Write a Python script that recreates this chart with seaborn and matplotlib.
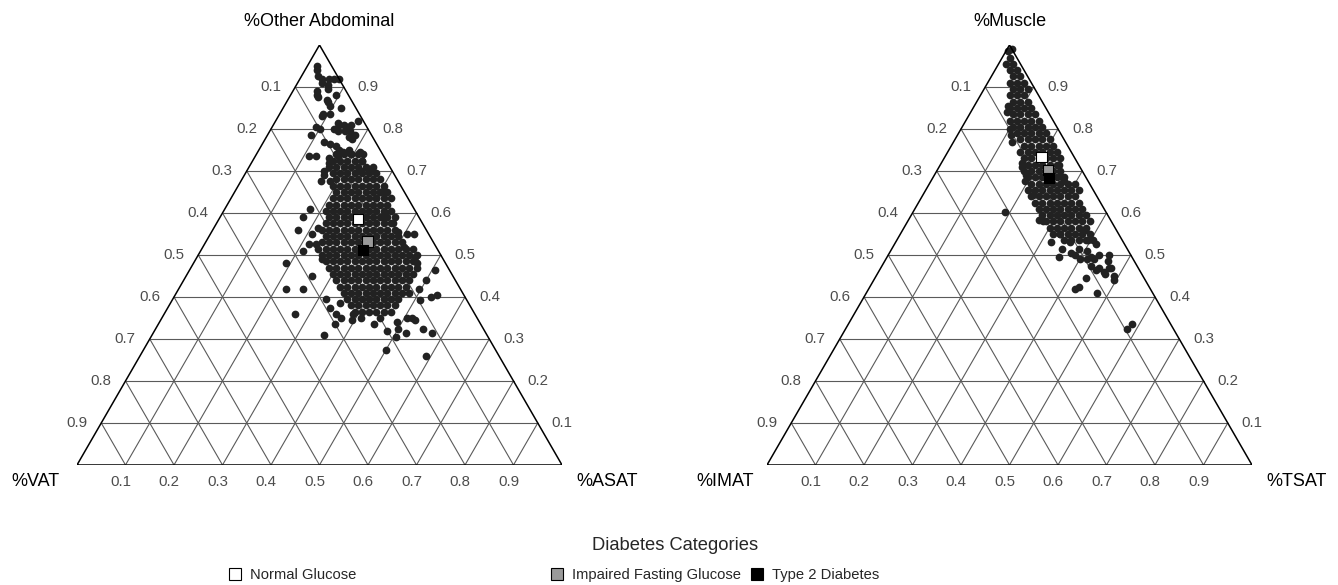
import numpy as np
import pandas as pd
import matplotlib
matplotlib.use('Agg')
import matplotlib.pyplot as plt
import seaborn as sns
from matplotlib.lines import Line2D

sns.set_style('white')
plt.rcParams['font.family'] = ['Liberation Sans', 'DejaVu Sans']

# ---- data (percent of each compartment) ----
categories = ['Normal Glucose', 'Impaired Fasting Glucose', 'Type 2 Diabetes']
palette = {'Normal Glucose': '#ffffff', 'Impaired Fasting Glucose': '#9a9a9a',
           'Type 2 Diabetes': '#000000'}

tick_values = [0.1, 0.2, 0.3, 0.4, 0.5, 0.6, 0.7, 0.8, 0.9]
tick_labels = ['0.1', '0.2', '0.3', '0.4', '0.5', '0.6', '0.7', '0.8', '0.9']

# abdominal panel: (%ASAT, %Other Abdominal), %VAT is the rest
abd_spread = [
    (2, 95), (2.5, 94), (3.5, 92.5), (4.5, 92), (5, 91), (6, 92), (7, 92), (8, 92),
    (6.5, 90.5), (7, 89.5), (5, 89), (5.5, 88), (6, 87.5), (9.5, 88), (8, 87),
    (8.5, 86.5), (9.5, 85.5), (12, 85), (9, 83.5), (9, 83), (10.5, 83.5), (13, 81.5),
    (13.5, 81), (14.5, 81), (15.5, 80.5), (16, 81), (17, 82), (13, 80), (14, 79.5),
    (15.5, 79.5), (16.5, 79.5), (18, 78.5), (17, 78), (18, 77.5), (9, 80.5), (10, 80),
    (9, 78.5), (12.5, 77), (14, 76.5), (15.5, 76), (16.5, 75), (17.5, 74.5), (18.5, 75),
    (19.5, 74), (21, 74.5), (22, 74), (22.5, 72.5), (11, 73.5), (12.5, 73.5),
    (15.5, 73), (16, 72), (17, 73.5), (16, 70), (16.5, 69), (23.5, 70), (25, 70.5),
    (25.5, 70), (16.5, 67.5), (18.5, 67.5), (30, 65), (31, 65), (30, 63.5),
    (17.5, 61), (17, 59), (17.5, 56), (21, 55), (21.5, 56.5), (23, 52.5), (21, 51),
    (21.5, 52.5), (19, 48), (26, 49), (26, 45), (22, 42), (25.5, 42), (31.5, 39.5),
    (33.5, 37.5), (35, 38.5), (27, 36), (35.5, 36), (37, 35), (36.5, 33.5), (35.5, 31),
    (39, 36), (39.5, 34.5), (41, 35), (44.5, 33.5), (45, 35), (48, 32), (49, 34),
    (50, 32.5), (50.5, 35), (51.5, 35), (50.5, 30.5), (52, 31.5), (52.5, 34.5),
    (55, 32.5), (57.5, 31.5), (50, 27.5), (59, 26), (53, 40), (54, 40.5), (51, 39.3),
    (49.5, 42), (50, 44), (50.5, 46.5), (45, 49.5), (46, 48), (41.5, 52), (42, 55),
    (40.5, 55), (38.5, 55.5), (33.5, 59), (36.5, 57.5), (33.5, 60),
]
abd_core_other = [74, 72.5, 71, 69.5, 68, 66.5, 65, 63.5, 62, 60.5, 59, 57.5, 56,
                  54.5, 53, 51.5, 50, 48.5, 47, 45.5, 44, 42.5, 41, 39.5, 38, 36.5]
abd_core_asat = [
    [16.5, 18, 19.5, 21],
    [16.5, 18, 19.5, 21, 22.5],
    [16.5, 18, 19.5, 21, 22.5, 24, 25.5],
    [18, 19.5, 21, 22.5, 24, 25.5, 27],
    [19.5, 21, 22.5, 24, 25.5, 27, 28.5],
    [19.5, 21, 22.5, 24, 25.5, 27, 28.5, 30],
    [21, 22.5, 24, 25.5, 27, 28.5, 30, 31.5],
    [21, 22.5, 24, 25.5, 27, 28.5, 30, 31.5, 33],
    [21, 22.5, 24, 25.5, 27, 28.5, 30, 31.5, 33],
    [21, 22.5, 24, 25.5, 27, 28.5, 30, 31.5, 33, 34.5],
    [22.5, 24, 25.5, 27, 28.5, 30, 31.5, 33, 34.5, 36],
    [22.5, 24, 25.5, 27, 28.5, 30, 31.5, 33, 34.5, 36],
    [22.5, 24, 25.5, 27, 28.5, 30, 31.5, 33, 34.5, 36, 37.5],
    [24, 25.5, 27, 28.5, 30, 31.5, 33, 34.5, 36, 37.5, 39],
    [24, 25.5, 27, 28.5, 30, 31.5, 33, 34.5, 36, 37.5, 39, 40.5],
    [24, 25.5, 27, 28.5, 30, 31.5, 33, 34.5, 36, 37.5, 39, 40.5, 42, 43.5],
    [25.5, 27, 28.5, 30, 31.5, 33, 34.5, 36, 37.5, 39, 40.5, 42, 43.5, 45],
    [27, 28.5, 30, 31.5, 33, 34.5, 36, 37.5, 39, 40.5, 42, 43.5, 45],
    [28.5, 30, 31.5, 33, 34.5, 36, 37.5, 39, 40.5, 42, 43.5, 45, 46.5],
    [30, 31.5, 33, 34.5, 36, 37.5, 39, 40.5, 42, 43.5, 45, 46.5],
    [31.5, 33, 34.5, 36, 37.5, 39, 40.5, 42, 43.5, 45, 46.5],
    [33, 34.5, 36, 37.5, 39, 40.5, 42, 43.5, 45, 46.5],
    [34.5, 36, 37.5, 39, 40.5, 42, 43.5, 45, 46.5, 48],
    [36, 37.5, 39, 40.5, 42, 43.5, 45, 46.5],
    [37.5, 39, 40.5, 42, 43.5, 45, 46.5],
    [39, 40.5, 42, 43.5, 45, 46.5],
]
abd_mean_asat = [28.75, 33.3, 33.4]
abd_mean_other = [58.5, 53.2, 51.2]

# muscle panel: (%TSAT, %Muscle), %IMAT is the rest
mus_spread = [
    (19, 60.3), (21, 65.5), (27, 58.3), (32, 53), (33, 55), (36, 53), (35, 51.5),
    (35.5, 49.5), (37.5, 50.5), (38.5, 50), (40, 49), (41.5, 49), (42, 49.5), (43, 49),
    (43.5, 50), (40.5, 51), (41.5, 52.5), (45.5, 50), (43, 47.5), (44.5, 46.5),
    (45, 47), (46.5, 46), (46, 48.5), (47, 47), (47.5, 47), (47, 45.5), (49, 45),
    (49.5, 44), (43.5, 44.5), (43, 42.5), (42.5, 42), (47.5, 41), (58, 32.5),
    (58.5, 33.5), (7, 85.5), (7.5, 84), (10, 80), (11, 78.5), (12, 77), (16.5, 72),
    (17, 71), (19, 69), (19.5, 67.5), (24.5, 71.5), (26.5, 68.5), (27.5, 67.5),
    (22.75, 64.3), (37.5, 56), (39.5, 53.5), (38.5, 51.5), (28, 58), (1, 99),
]
mus_core_muscle = [98.5, 97, 95.5, 94, 92.5, 91, 89.5, 88, 86.5, 85, 83.5, 82, 80.5,
                   79, 77.5, 76, 74.5, 73, 71.5, 70, 68.5, 67, 65.5, 64, 62.5, 61,
                   59.5, 58, 56.5, 55, 53.5]
mus_core_tsat = [
    [0.5],
    [1.5],
    [1.5, 3],
    [3, 4.5],
    [4.5, 6],
    [4.5, 6, 7.5],
    [6, 7.5, 9],
    [6, 7.5, 9],
    [7.5, 9, 10.5],
    [7.5, 9, 10.5, 12],
    [9, 10.5, 12, 13.5],
    [9, 10.5, 12, 13.5, 15],
    [10.5, 12, 13.5, 15, 16.5],
    [12, 13.5, 15, 16.5, 18],
    [13.5, 15, 16.5, 18, 19.5],
    [15, 16.5, 18, 19.5, 21],
    [15, 16.5, 18, 19.5, 21, 22.5],
    [16.5, 18, 19.5, 21, 22.5, 24],
    [18, 19.5, 21, 22.5, 24],
    [18, 19.5, 21, 22.5, 24, 25.5],
    [19.5, 21, 22.5, 24, 25.5, 27],
    [21, 22.5, 24, 25.5, 27, 28.5, 30],
    [22.5, 24, 25.5, 27, 28.5, 30, 31.5],
    [22.5, 24, 25.5, 27, 28.5, 30, 31.5],
    [24, 25.5, 27, 28.5, 30, 31.5, 33],
    [25.5, 27, 28.5, 30, 31.5, 33, 34.5],
    [27, 28.5, 30, 31.5, 33, 34.5, 36],
    [28.5, 30, 31.5, 33, 34.5, 36, 37.5],
    [30, 31.5, 33, 34.5, 36, 37.5],
    [31.5, 33, 34.5, 36, 37.5, 39],
    [34.5, 36, 37.5, 39, 40.5],
]
mus_mean_tsat = [19.9, 22.9, 24.0]
mus_mean_muscle = [73.4, 70.2, 68.3]

H = np.sqrt(3) / 2


def collect(spread, core_top, core_right):
    right = [p[0] for p in spread]
    top = [p[1] for p in spread]
    for t, row in zip(core_top, core_right):
        right += row
        top += [t] * len(row)
    return pd.DataFrame({'right': right, 'top': top})


def ternary_xy(right, top):
    r = np.asarray(right, dtype=float) / 100
    t = np.asarray(top, dtype=float) / 100
    return r + t / 2, t * H


def draw_panel(ax, df, mean_right, mean_top, names):
    ax.set_xlim(0, 1)
    ax.set_ylim(0, H)
    ax.axis('off')

    grid_kw = dict(color='#5a5a5a', lw=0.8, zorder=1)
    for k in tick_values:
        ax.plot([k / 2, 1 - k / 2], [k * H, k * H], **grid_kw)
        ax.plot([k, k + (1 - k) / 2], [0, (1 - k) * H], **grid_kw)
        ax.plot([1 - k, (1 - k) / 2], [0, (1 - k) * H], **grid_kw)
    ax.plot([0, 1, 0.5, 0], [0, 0, H, 0], color='black', lw=1.1, zorder=3)

    x, y = ternary_xy(df['right'], df['top'])
    sns.scatterplot(x=x, y=y, ax=ax, color='#222222', s=31, linewidth=0,
                    legend=False, zorder=2, clip_on=False)

    mx, my = ternary_xy(mean_right, mean_top)
    means = pd.DataFrame({'x': mx, 'y': my, 'group': categories})
    sns.scatterplot(data=means, x='x', y='y', hue='group', palette=palette,
                    marker='s', s=56, edgecolor='black', linewidth=0.8,
                    legend=False, ax=ax, zorder=4)

    txt = dict(textcoords='offset pixels', annotation_clip=False, fontsize=10.8,
               color='#4d4d4d', va='center')
    for k, lab in zip(tick_values, tick_labels):
        t = 1 - k
        ax.annotate(lab, (t / 2, t * H), xytext=(-14, 0), ha='right', **txt)
        ax.annotate(lab, (1 - k / 2, k * H), xytext=(14, 0), ha='left', **txt)
        ax.annotate(lab, (k, 0), xytext=(-5, -17), ha='center', **txt)

    vtx = dict(textcoords='offset pixels', annotation_clip=False, fontsize=13,
               color='black', ha='center', va='center')
    ax.annotate(names[0], (0.5, H), xytext=(0, 23), **vtx)
    ax.annotate(names[1], (0, 0), xytext=(-42, -16), **vtx)
    ax.annotate(names[2], (1, 0), xytext=(45, -16), **vtx)


fig = plt.figure(figsize=(13.38, 5.85), dpi=100)
W, HT = 1338, 585
ax1 = fig.add_axes([77 / W, 120 / HT, 485 / W, 420 / HT])
ax2 = fig.add_axes([767 / W, 120 / HT, 485 / W, 420 / HT])

abd = collect(abd_spread, abd_core_other, abd_core_asat)
mus = collect(mus_spread, mus_core_muscle, mus_core_tsat)

draw_panel(ax1, abd, abd_mean_asat, abd_mean_other,
           ['%Other Abdominal', '%VAT', '%ASAT'])
draw_panel(ax2, mus, mus_mean_tsat, mus_mean_muscle,
           ['%Muscle', '%IMAT', '%TSAT'])

# legend
fig.text(675 / W, 1 - 545 / HT, 'Diabetes Categories', ha='center', va='center',
         fontsize=13.2)
for name, xpix in zip(categories, [235, 557, 757]):
    h = Line2D([], [], ls='none', marker='s', markersize=8.5,
               markerfacecolor=palette[name], markeredgecolor='black',
               markeredgewidth=0.8)
    fig.legend(handles=[h], labels=[name], loc='center left',
               bbox_to_anchor=((xpix - 7.4) / W, 1 - 575 / HT), frameon=False,
               fontsize=10.6, handlelength=1, handletextpad=0.5, borderpad=0,
               borderaxespad=0)

fig.savefig('out.png', dpi=100)
